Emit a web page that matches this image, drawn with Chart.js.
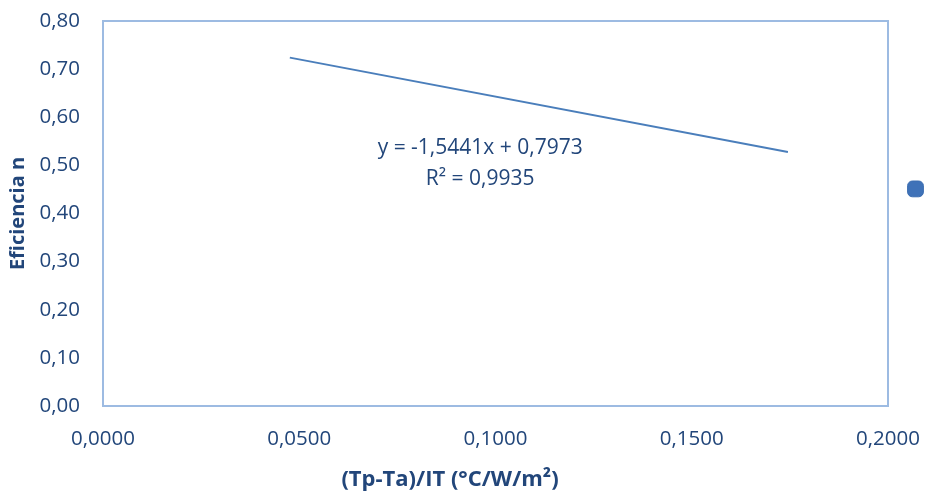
<!DOCTYPE html>
<html>
<head>
<meta charset="utf-8">
<script src="https://cdn.jsdelivr.net/npm/chart.js@4"></script>
<style>
  html, body { margin: 0; padding: 0; background: #ffffff; }
  #wrap { width: 926px; height: 496px; }
</style>
</head>
<body>
<div id="wrap"><canvas id="c" width="926" height="496"></canvas></div>
<script>
// Linear trend fitted to the efficiency measurements
const trendSlope = -1.5441;
const trendIntercept = 0.7973;
const trendR2 = 0.9935;
// x range covered by the trend line
const trendX = [0.0476, 0.1745];
// axis ticks
const xTicks = [0, 0.05, 0.10, 0.15, 0.20];
const yTicks = [0, 0.10, 0.20, 0.30, 0.40, 0.50, 0.60, 0.70, 0.80];

const fmt = (v, d) => v.toFixed(d).replace('.', ',');
const fmtSigned = v => (v < 0 ? '-' : '') + fmt(Math.abs(v), 4);

const trendPoints = trendX.map(x => ({ x: x, y: trendIntercept + trendSlope * x }));
const eqLines = [
  'y = ' + fmtSigned(trendSlope) + 'x + ' + fmt(trendIntercept, 4),
  'R² = ' + fmt(trendR2, 4)
];

const TEXT = '#22467a';
const FONT = "'Open Sans', sans-serif";

// frame around the plotting area plus the trend equation
const framePlugin = {
  id: 'frame',
  afterDatasetsDraw(chart) {
    const { ctx, chartArea: a, scales } = chart;
    ctx.save();
    ctx.strokeStyle = '#9dbbe2';
    ctx.lineWidth = 2;
    ctx.strokeRect(a.left, a.top, a.right - a.left, a.bottom - a.top);
    // equation label anchored in data space
    const cx = scales.x.getPixelForValue(0.0961);
    const cy = scales.y.getPixelForValue(0.536);
    ctx.fillStyle = TEXT;
    ctx.font = "21px " + FONT;
    ctx.textAlign = 'center';
    ctx.textBaseline = 'middle';
    ctx.fillText(eqLines[0], cx, cy);
    ctx.fillText(eqLines[1], cx, cy + 31);
    ctx.restore();
  }
};

new Chart(document.getElementById('c'), {
  type: 'scatter',
  data: {
    datasets: [
      {
        label: '',
        data: [],
        pointStyle: 'rectRounded',
        backgroundColor: '#3f72b8',
        borderColor: '#3a6cb0',
        pointRadius: 6
      },
      {
        label: 'trend',
        data: trendPoints,
        showLine: true,
        borderColor: '#4a7ebb',
        borderWidth: 1.9,
        pointRadius: 0,
        fill: false
      }
    ]
  },
  options: {
    responsive: false,
    animation: false,
    devicePixelRatio: 1,
    layout: { padding: { left: -26, right: 0, top: 21, bottom: 3 } },
    plugins: {
      legend: {
        display: true,
        position: 'right',
        align: 'start',
        maxWidth: 38,
        title: { display: true, text: '', padding: { top: 126, bottom: 0 } },
        labels: {
          filter: item => item.datasetIndex === 0,
          usePointStyle: true,
          pointStyle: 'rectRounded',
          boxWidth: 13,
          boxHeight: 13,
          padding: 21,
          font: { size: 13, family: FONT }
        }
      },
      title: {
        display: true,
        position: 'bottom',
        text: '(Tp-Ta)/IT (°C/W/m²)',
        color: TEXT,
        font: { size: 22, weight: 'bold', family: FONT },
        padding: { top: 0, bottom: 0 }
      },
      tooltip: { enabled: false }
    },
    scales: {
      x: {
        type: 'linear',
        min: 0,
        max: 0.2,
        afterBuildTicks: s => { s.ticks = xTicks.map(v => ({ value: v })); },
        afterFit: s => { s.height = 60.6; s.paddingLeft = 0; s.paddingRight = 0; },
        grid: { display: false, drawTicks: false },
        border: { display: false },
        ticks: {
          color: TEXT,
          padding: 21,
          font: { size: 20.5, family: FONT },
          callback: v => fmt(v, 4),
          maxRotation: 0
        }
      },
      y: {
        type: 'linear',
        min: 0,
        max: 0.8,
        afterBuildTicks: s => { s.ticks = yTicks.map(v => ({ value: v })); },
        afterFit: s => { s.width = 129; s.paddingTop = 0; s.paddingBottom = 0; },
        grid: { display: false, drawTicks: false },
        border: { display: false },
        ticks: {
          color: TEXT,
          padding: 23,
          font: { size: 20.5, family: FONT },
          callback: v => fmt(v, 2)
        },
        title: {
          display: true,
          text: 'Eficiencia n',
          color: TEXT,
          font: { size: 20, weight: 'bold', family: FONT },
          padding: { top: 32, bottom: 0 }
        }
      }
    }
  },
  plugins: [framePlugin]
});
</script>
</body>
</html>
